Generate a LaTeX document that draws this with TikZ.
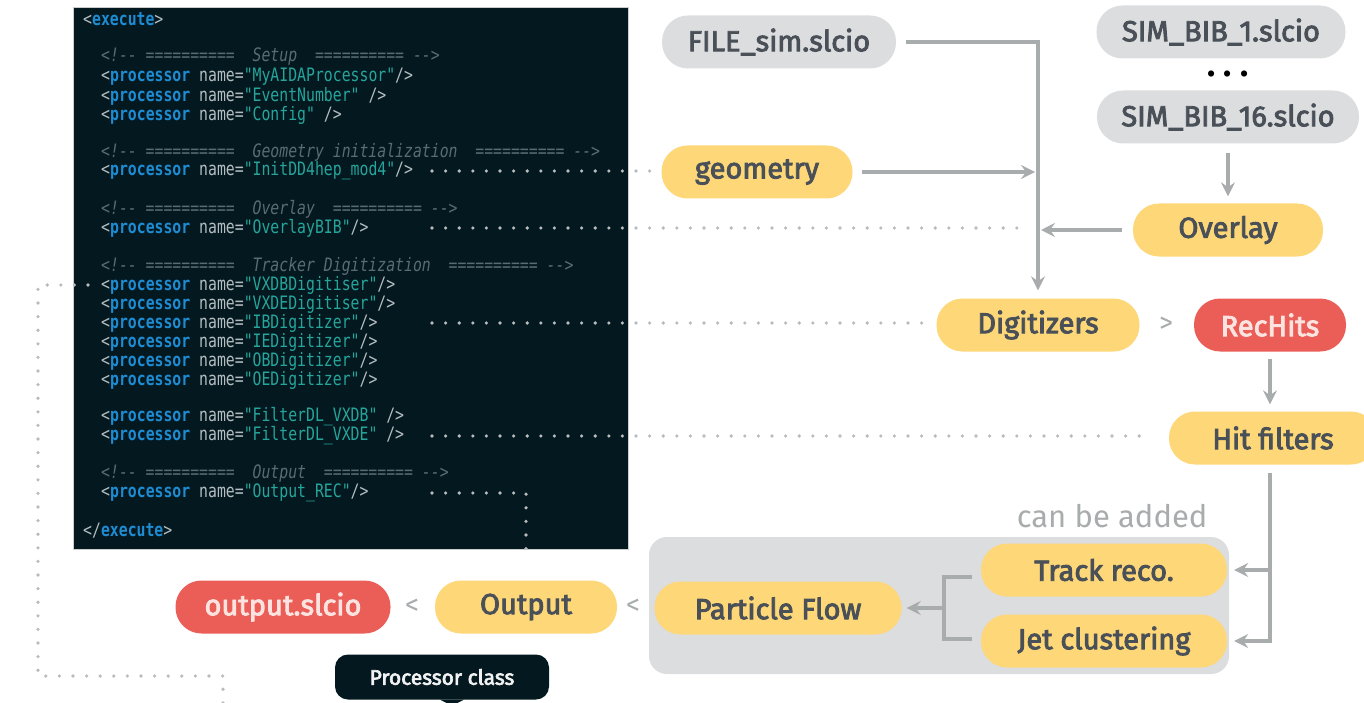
\documentclass[tikz,border=0pt]{standalone}
\usepackage{fontspec}
\setmainfont{Fira Sans}
\newfontfamily\boxfont{Fira Sans}[FakeBold=3]
\newfontfamily\codefont{DejaVu Sans Mono}[FakeStretch=0.8]
\usetikzlibrary{positioning}
\usetikzlibrary{arrows.meta}

\definecolor{pillgray}{HTML}{DCDDDF}
\definecolor{pillyellow}{HTML}{FDD778}
\definecolor{pillred}{HTML}{EA5E57}
\definecolor{pilltext}{HTML}{4A5058}
\definecolor{redtext}{HTML}{FCE3DF}
\definecolor{flowgray}{HTML}{A9ACAD}
\definecolor{dotgray}{HTML}{B9BBBC}
\definecolor{codebg}{HTML}{03181F}
\definecolor{codeplain}{HTML}{B4BDC0}
\definecolor{codeblue}{HTML}{1E8CD3}
\definecolor{codeteal}{HTML}{25A59C}
\definecolor{codecmt}{HTML}{5A6C73}

\newcommand{\xmltag}[2]{\textcolor{codeplain}{#1}\textcolor{codeblue}{\bfseries #2}\textcolor{codeplain}{>}}
\newcommand{\procline}[2]{\textcolor{codeplain}{<}\textcolor{codeblue}{\bfseries processor}\textcolor{codeplain}{\ name=}\textcolor{codeteal}{"#1"}\textcolor{codeplain}{#2}}
\newcommand{\xmlnote}[1]{\textcolor{codecmt}{\itshape <!-{}-\ ==========\ \ #1\ \ ==========\ -{}->}}

\begin{document}
\begin{tikzpicture}[x=1pt,y=-1pt,>={Stealth[length=14pt,width=14pt,inset=5pt]},
	pill/.style={rectangle,
		rounded corners=26pt,
		minimum height=53pt,
		inner sep=0pt,
		text=pilltext,
		font=\boxfont\fontsize{29}{31}\selectfont},
	infile/.style={pill, fill=pillgray},
	proc/.style={pill, fill=pillyellow},
	outfile/.style={pill, fill=pillred, text=redtext},
	flow/.style={draw=flowgray, line width=3.5pt},
	dotlink/.style={draw=dotgray, line width=3.6pt, line cap=round, dash pattern=on 0pt off 13.6pt},
	code/.style={anchor=west, inner sep=0pt, font=\codefont\fontsize{18.5}{20}\selectfont},
	sep/.style={text=flowgray, font=\fontsize{28}{30}\selectfont}]
	\useasboundingbox (0,0) rectangle (1364,703);

	% steering file
	\draw[fill=codebg, draw=gray!40, line width=1pt] (73,8) rectangle (628,549);
	\node[code] (exe) at (83,19) {\xmltag{<}{execute}};
	\node[code] (n-setup) at (101,57) {\xmlnote{Setup}};
	\node[code] (p-aida) at (101,77) {\procline{MyAIDAProcessor}{/>}};
	\node[code] (p-evt) at (101,96) {\procline{EventNumber}{\ />}};
	\node[code] (p-conf) at (101,115) {\procline{Config}{\ />}};
	\node[code] (n-geo) at (101,152) {\xmlnote{Geometry initialization}};
	\node[code] (p-init) at (101,171) {\procline{InitDD4hep\_mod4}{/>}};
	\node[code] (n-ovl) at (101,209) {\xmlnote{Overlay}};
	\node[code] (p-ovl) at (101,228) {\procline{OverlayBIB}{/>}};
	\node[code] (n-trk) at (101,266) {\xmlnote{Tracker Digitization}};
	\node[code] (p-vxdb) at (101,285) {\procline{VXDBDigitiser}{/>}};
	\node[code] (p-vxde) at (101,304) {\procline{VXDEDigitiser}{/>}};
	\node[code] (p-ib) at (101,323) {\procline{IBDigitizer}{/>}};
	\node[code] (p-ie) at (101,342) {\procline{IEDigitizer}{/>}};
	\node[code] (p-ob) at (101,361) {\procline{OBDigitizer}{/>}};
	\node[code] (p-oe) at (101,380) {\procline{OEDigitizer}{/>}};
	\node[code] (p-fdb) at (101,417) {\procline{FilterDL\_VXDB}{\ />}};
	\node[code] (p-fde) at (101,436) {\procline{FilterDL\_VXDE}{\ />}};
	\node[code] (n-out) at (101,474) {\xmlnote{Output}};
	\node[code] (p-outrec) at (101,493) {\procline{Output\_REC}{/>}};
	\node[code] (exe-end) at (83,531) {\xmltag{</}{execute}};

	% chain
	\node[infile, minimum width=234pt] (simfile) at (779,42) {FILE\_sim.slcio};
	\node[infile, minimum width=249pt] (bib1) at (1221,32) {SIM\_BIB\_1.slcio};
	\node[anchor=base, font=\bfseries\fontsize{34}{34}\selectfont] (bibdots) at (1228,77) {.\hspace{8pt}.\hspace{8pt}.};
	\node[infile, minimum width=262pt] (bib16) at (1228,117) {SIM\_BIB\_16.slcio};
	\node[proc, minimum width=191pt] (geo) at (757,172) {geometry};
	\node[proc, minimum width=190pt] (ovl) at (1228,230) {Overlay};
	\node[proc, minimum width=203pt] (digi) at (1038,325) {Digitizers};
	\node[sep] (gt-rec) at (1166,325) {>};
	\node[outfile, minimum width=152pt] (rec) at (1270,325) {RecHits};
	\node[proc, minimum width=208pt] (hitf) at (1273,438) {Hit filters};

	\draw[fill=pillgray, draw=none, rounded corners=18pt] (649,537) rectangle (1229,674);
	\node[anchor=base east, text=flowgray, font=\fontsize{31}{33}\selectfont] (added) at (1211,527) {can be added};
	\node[proc, minimum width=246pt] (track) at (1104,570) {Track reco.};
	\node[proc, minimum width=246pt] (jet) at (1104,641) {Jet clustering};
	\node[proc, minimum width=247pt] (pflow) at (778,608) {Particle Flow};
	\node[sep] (lt-pf) at (633,607) {<};
	\node[proc, minimum width=182pt] (outp) at (526,607) {Output};
	\node[sep] (lt-out) at (412,607) {<};
	\node[outfile, minimum width=215pt] (outf) at (283,607) {output.slcio};

	\node[fill=codebg, rounded corners=13pt, minimum width=214pt, minimum height=45pt, inner sep=0pt,
		text=white!90!gray, font=\boxfont\fontsize{21}{24}\selectfont] (legend) at (442,677) {Processor class};
	\fill[codebg] ([xshift=-2pt]legend.south) -- ([xshift=22pt]legend.south) -- ([xshift=10pt,yshift=-6pt]legend.south) -- cycle;

	% arrows
	\draw[flow,->,shorten >=8pt] ([xshift=10pt]simfile.east) -| (digi.north);
	\draw[flow,->,shorten >=3pt] ([xshift=9pt]geo.east) -- (geo.east -| digi.north);
	\draw[flow,->,shorten >=3pt] ([xshift=-11pt]ovl.west) -- (ovl.west -| digi.north);
	\draw[flow,->] ([yshift=-9pt]bib16.south) -- ([yshift=7pt]ovl.north);
	\coordinate (hitin) at (hitf.north -| rec.south);
	\coordinate (hitout) at (hitf.south -| rec.south);
	\draw[flow,->] ([yshift=-7pt]rec.south) -- ([yshift=7pt]hitin);
	\draw[flow,->,shorten >=7pt] ([yshift=-8pt]hitout) |- (jet.east);
	\draw[flow,->,shorten >=7pt] (track.east -| hitout) -- (track.east);
	\coordinate (brk) at (944,608);
	\draw[flow] ([shift={(-9,7)}]track.west) -| (brk) |- ([shift={(-9,-2)}]jet.west);
	\draw[flow,->,shorten >=5pt] (brk) -- (pflow.east);

	% processor links
	\coordinate (dotcol) at (432,0);
	\coordinate (bend) at (38,676);
	\coordinate (tail) at (223,703);
	\draw[dotlink,shorten >=8pt] (dotcol |- p-init) -- (p-init -| geo.west);
	\draw[dotlink,shorten >=18pt] (dotcol |- p-ovl) -- (p-ovl -| digi.north);
	\draw[dotlink,shorten >=10pt] (dotcol |- p-ib) -- (p-ib -| digi.west);
	\draw[dotlink,shorten >=18pt] (dotcol |- p-fde) -- (p-fde -| hitf.west);
	\draw[dotlink,shorten >=19pt] (dotcol |- p-outrec) -| (outp.north);
	\draw[dotlink] ([xshift=-13pt]p-vxdb.west) -| (bend) -| (tail);
\end{tikzpicture}
\end{document}
